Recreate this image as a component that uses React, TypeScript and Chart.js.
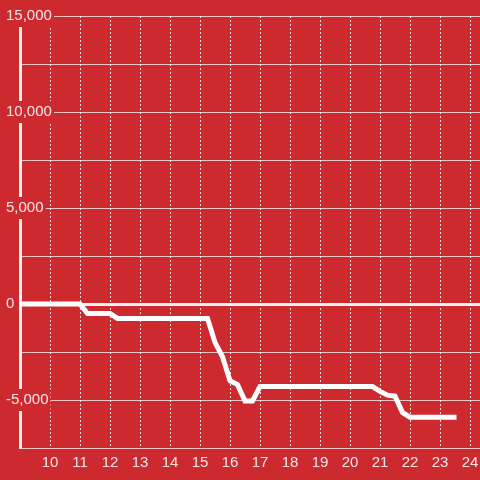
import React, { useEffect, useRef } from "react";
import { Chart, registerables } from "chart.js";

Chart.register(...registerables);

// Hours of the day (x) and running values (y)
const hours = [8.75, 11.0, 11.25, 12.0, 12.25, 15.25, 15.5, 15.75, 16.0, 16.25, 16.5, 16.75, 17.0, 20.75, 21.0, 21.25, 21.5, 21.75, 22.0, 23.55];
const values = [0, 0, -500, -500, -750, -750, -2000, -2750, -4000, -4200, -5050, -5050, -4300, -4300, -4550, -4750, -4800, -5650, -5900, -5900];

// Axis tick values
const xTicks = [10, 11, 12, 13, 14, 15, 16, 17, 18, 19, 20, 21, 22, 23, 24];
const yTicks = [-7500, -5000, -2500, 0, 2500, 5000, 7500, 10000, 12500, 15000];
const yLabelled = [-5000, 0, 5000, 10000, 15000];

const xMin = 9;
const xMax = 24.333;
const yMin = -7500;
const yMax = 15000;

const BG = "#cc2a2f";
const TEXT = "rgba(255,255,255,0.88)";
const FONT = "'Liberation Sans', Arial, sans-serif";

export default function App() {
  const ref = useRef<HTMLCanvasElement | null>(null);

  useEffect(() => {
    document.body.style.margin = "0";
    const canvas = ref.current;
    if (!canvas) return;

    const bgPlugin = {
      id: "bg",
      beforeDraw(chart: any) {
        const ctx = chart.ctx;
        ctx.save();
        ctx.fillStyle = BG;
        ctx.fillRect(0, 0, chart.width, chart.height);
        ctx.restore();
      },
    };

    const chart = new Chart(canvas, {
      type: "line",
      data: {
        datasets: [
          {
            data: hours.map((h, i) => ({ x: h, y: values[i] })),
            borderColor: "#ffffff",
            borderWidth: 5,
            pointRadius: 0,
            tension: 0,
            fill: false,
          },
        ],
      },
      options: {
        animation: false,
        responsive: false,
        maintainAspectRatio: false,
        layout: { padding: { left: 20, top: 16, right: 0, bottom: 0 } },
        plugins: { legend: { display: false }, tooltip: { enabled: false } },
        scales: {
          x: {
            type: "linear",
            min: xMin,
            max: xMax,
            afterBuildTicks: (scale: any) => {
              scale.ticks = xTicks.map((v) => ({ value: v }));
            },
            afterFit: (scale: any) => {
              scale.height = 32;
              scale.paddingLeft = 0;
              scale.paddingRight = 0;
            },
            ticks: {
              color: TEXT,
              padding: 6,
              maxRotation: 0,
              autoSkip: false,
              font: { family: FONT, size: 15 },
              callback: (v: any) => String(v),
            },
            grid: {
              color: "rgba(255,255,255,0.85)",
              lineWidth: 1,
              drawTicks: false,
            },
            border: { display: false, dash: [2, 2] },
          },
          y: {
            type: "linear",
            min: yMin,
            max: yMax,
            afterBuildTicks: (scale: any) => {
              scale.ticks = yTicks.map((v) => ({ value: v }));
            },
            afterFit: (scale: any) => {
              scale.width = 0;
              scale.paddingTop = 0;
              scale.paddingBottom = 0;
            },
            ticks: {
              mirror: true,
              padding: -14,
              color: TEXT,
              autoSkip: false,
              font: { family: FONT, size: 15 },
              showLabelBackdrop: true,
              backdropColor: BG,
              backdropPadding: 2,
              callback: (v: any) => (yLabelled.includes(Number(v)) ? Number(v).toLocaleString("en-US") : ""),
            },
            grid: {
              drawTicks: false,
              color: (ctx: any) => (ctx.tick && ctx.tick.value === 0 ? "#f2f2f2" : "rgba(255,255,255,0.72)"),
              lineWidth: (ctx: any) => (ctx.tick && ctx.tick.value === 0 ? 3 : 1),
            },
            border: { display: true, color: "#f2f2f2", width: 3 },
          },
        },
      } as any,
      plugins: [bgPlugin],
    });

    return () => chart.destroy();
  }, []);

  return (
    <div style={{ width: 480, height: 480 }}>
      <canvas ref={ref} width={480} height={480} />
    </div>
  );
}
